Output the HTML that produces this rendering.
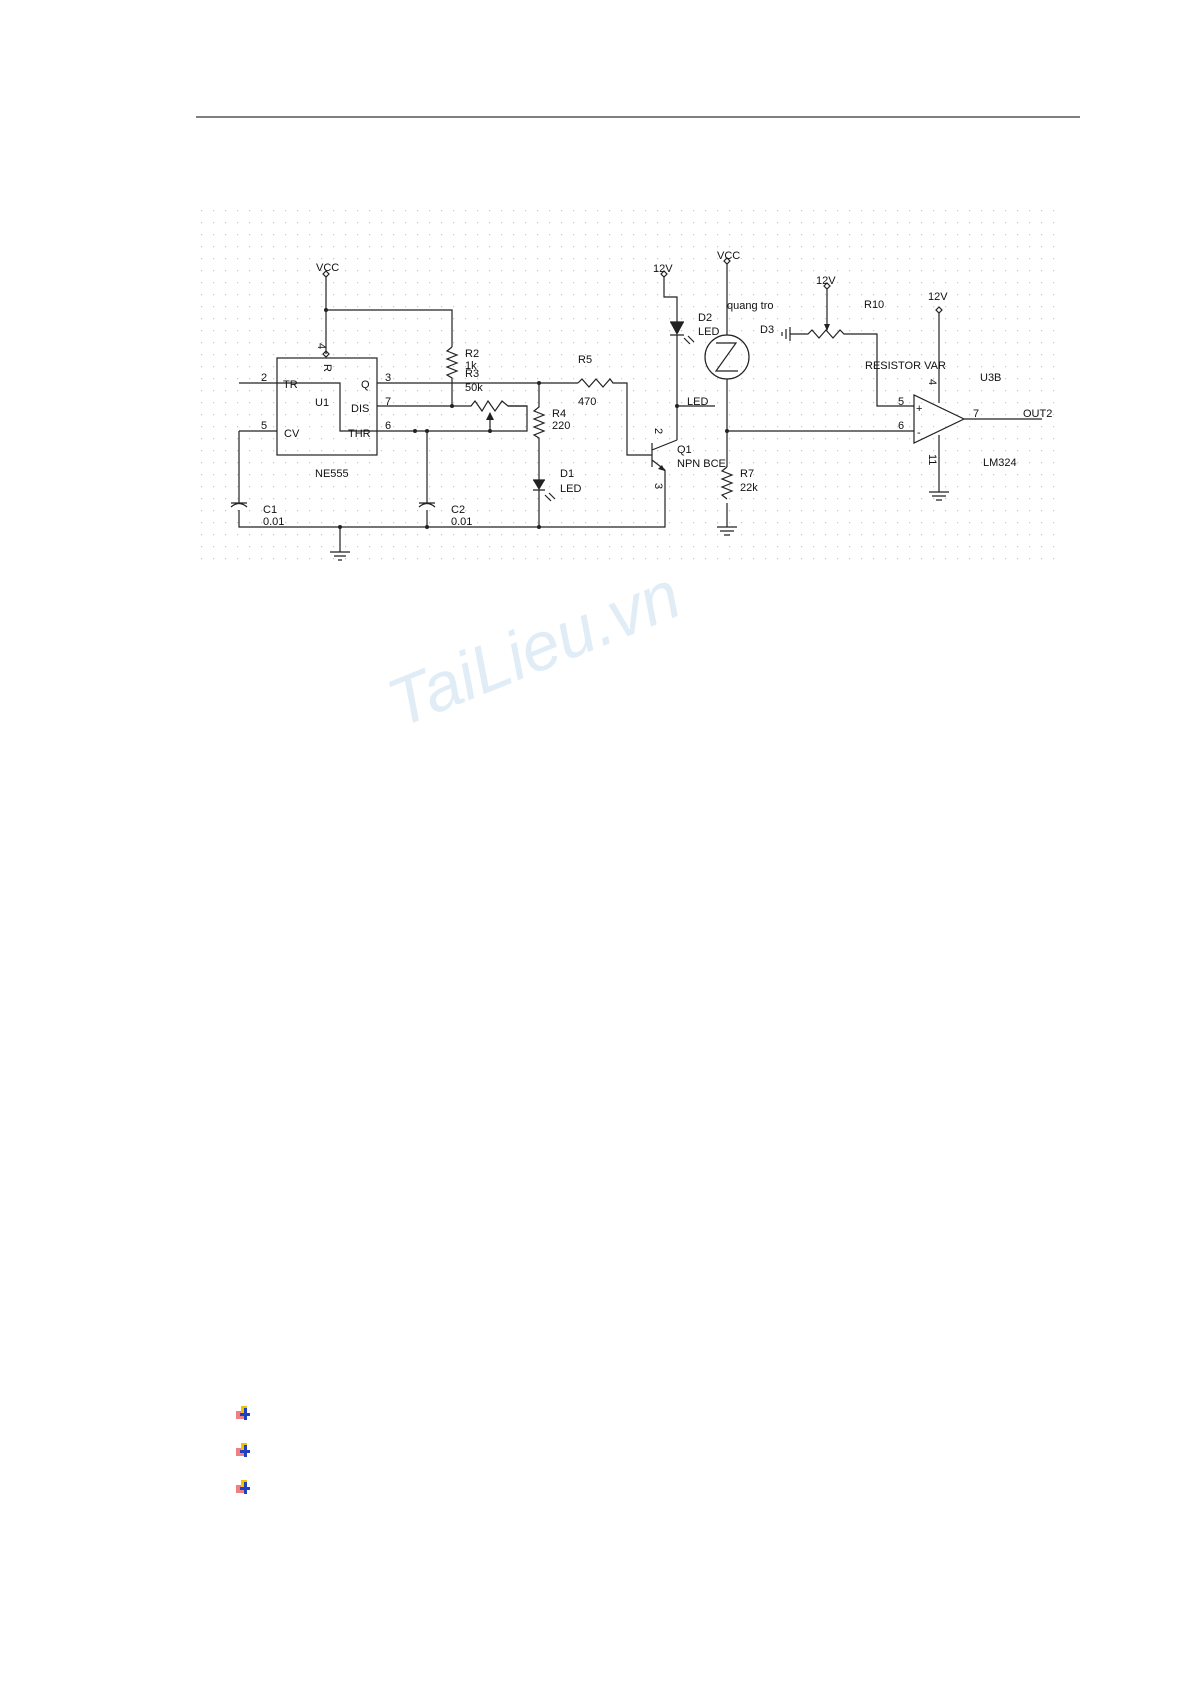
<!DOCTYPE html>
<html><head><meta charset="utf-8"><style>
html,body{margin:0;padding:0;background:#fff}
svg{display:block}
text{font-family:"Liberation Sans",Arial,sans-serif;font-size:11px;fill:#111}
</style></head><body>
<svg width="1192" height="1685" viewBox="0 0 1192 1685" xmlns="http://www.w3.org/2000/svg">
<defs>
<pattern id="g" x="201" y="210" width="12" height="12" patternUnits="userSpaceOnUse">
<rect x="0" y="0" width="1.2" height="1.2" fill="#c8c8c8"/>
</pattern>
</defs>
<line x1="196" y1="117" x2="1080" y2="117" stroke="#000" stroke-width="1"/>
<text x="400" y="728" transform="rotate(-22 400 728)" style="font-size:68px;fill:#e0ecf6;font-style:italic">TaiLieu.vn</text>
<rect x="198" y="208" width="862" height="360" fill="#fff"/>
<rect x="198" y="208" width="862" height="360" fill="url(#g)"/>
<g fill="none" stroke="#222" stroke-width="1.2">
<path d="M326 277 L326 354"/>
<path d="M323 274 l3 -3 l3 3 l-3 3z M323 354 l3 -3 l3 3 l-3 3z"/>
<path d="M326 310 H452 V347"/>
<path d="M452 347 l-5 4 l10 4 l-10 4 l10 4 l-10 4 l10 4 l-10 4 l5 3 V406"/>
<rect x="277" y="358" width="100" height="97"/>
<path d="M239 383 H340 V431 H527 V406 H508"/>
<path d="M377 383 H578"/>
<path d="M578 383 l4 -4 l7 8 l7 -8 l7 8 l7 -8 l3 4 H627 V455 H652"/>
<path d="M377 406 H471 l4 -5 l7 10 l6 -10 l7 10 l7 -10 l6 5 H527"/>
<path d="M490 431 V413"/>
<path d="M239 431 H277 M239 431 V503 M239 510 V527 H665 V470"/>
<path d="M231 507 q8 -7 16 0 M231 503 H247"/>
<path d="M427 431 V503 M427 510 V527"/>
<path d="M419 507 q8 -7 16 0 M419 503 H435"/>
<path d="M340 527 V552 M330 552 H350 M334 556 H346 M338 560 H342"/>
<path d="M539 383 V407 l-5 4 l10 4 l-10 4 l10 4 l-10 4 l10 4 l-10 4 l5 3 V480 M539 490 V527"/>
<path d="M533 480 H545 M533 490 H545"/>
<path d="M545 495 l6 6 M549 493 l6 6"/>
<path d="M664 277 V297 H677 V322 M677 335 V440 M677 406 H715"/>
<path d="M661 274 l3 -3 l3 3 l-3 3z"/>
<path d="M670 322 H684 M670 335 H684"/>
<path d="M684 338 l6 6 M688 336 l6 6"/>
<path d="M652 443 V467 M652 450 L677 440 M652 460 L665 470"/>
<path d="M727 264 V335 M727 379 V467 M727 503 V527"/>
<path d="M724 261 l3 -3 l3 3 l-3 3z"/>
<circle cx="727" cy="357" r="22"/>
<path d="M716 343 H736 L716 371 H738"/>
<path d="M727 467 l-5 4 l10 4 l-10 4 l10 4 l-10 4 l10 4 l-10 4 l5 4"/>
<path d="M717 527 H737 M720 531 H734 M724 535 H730"/>
<path d="M727 431 H914"/>
<path d="M827 289 V330"/>
<path d="M824 286 l3 -3 l3 3 l-3 3z"/>
<path d="M790 334 H808 l4 -4 l7 8 l7 -8 l7 8 l7 -8 l4 4 H877 V406 H914"/>
<path d="M790 327 V341 M786 329 V339 M782 332 V336"/>
<path d="M914 395 V443 L964 419 Z"/>
<path d="M939 313 V403 M939 435 V492 M929 492 H949 M932 496 H946 M936 500 H942"/>
<path d="M936 310 l3 -3 l3 3 l-3 3z"/>
<path d="M964 419 H1042"/>
</g>
<g fill="#222">
<path d="M486 420 l4 -8 l4 8z"/>
<path d="M824 324 l3 7 l3 -7z"/>
<path d="M533 480 h12 l-6 10z"/>
<path d="M670 322 h14 l-7 13z"/>
<path d="M658 469 l7 2 l-3 -6z"/>
<circle cx="326" cy="310" r="2"/><circle cx="452" cy="406" r="2"/><circle cx="539" cy="383" r="2"/>
<circle cx="415" cy="431" r="2"/><circle cx="427" cy="431" r="2"/><circle cx="490" cy="431" r="2"/>
<circle cx="340" cy="527" r="2"/><circle cx="427" cy="527" r="2"/><circle cx="539" cy="527" r="2"/>
<circle cx="677" cy="406" r="2"/><circle cx="727" cy="431" r="2"/>
</g>
<text x="316" y="271">VCC</text>
<text x="318" y="351" transform="rotate(90 322 347)">4</text>
<text x="324" y="372" transform="rotate(90 328 368)">R</text>
<text x="261" y="381">2</text><text x="385" y="381">3</text>
<text x="385" y="405">7</text><text x="261" y="429">5</text><text x="385" y="429">6</text>
<text x="283" y="388">TR</text><text x="361" y="388">Q</text><text x="351" y="412">DIS</text>
<text x="284" y="437">CV</text><text x="348" y="437">THR</text>
<text x="315" y="406">U1</text><text x="315" y="477">NE555</text>
<text x="465" y="357">R2</text><text x="465" y="369">1k</text><text x="465" y="377">R3</text><text x="465" y="391">50k</text>
<text x="578" y="363">R5</text><text x="578" y="405">470</text>
<text x="552" y="417">R4</text><text x="552" y="429">220</text>
<text x="560" y="477">D1</text><text x="560" y="492">LED</text>
<text x="263" y="513">C1</text><text x="263" y="525">0.01</text>
<text x="451" y="513">C2</text><text x="451" y="525">0.01</text>
<text x="653" y="272">12V</text>
<text x="717" y="259">VCC</text>
<text x="727" y="309">quang tro</text>
<text x="698" y="321">D2</text><text x="698" y="335">LED</text>
<text x="687" y="405">LED</text>
<text x="655" y="436" transform="rotate(90 659 432)">2</text>
<text x="655" y="491" transform="rotate(90 659 487)">3</text>
<text x="677" y="453">Q1</text><text x="677" y="467">NPN BCE</text>
<text x="740" y="477">R7</text><text x="740" y="491">22k</text>
<text x="816" y="284">12V</text>
<text x="760" y="333">D3</text>
<text x="864" y="308">R10</text>
<text x="865" y="369">RESISTOR VAR</text>
<text x="928" y="300">12V</text>
<text x="929" y="387" transform="rotate(90 933 383)">4</text>
<text x="927" y="464" transform="rotate(90 933 460)">11</text>
<text x="898" y="405">5</text><text x="898" y="429">6</text>
<text x="916" y="412">+</text><text x="917" y="436">-</text>
<text x="973" y="417">7</text><text x="1023" y="417">OUT2</text>
<text x="980" y="381">U3B</text><text x="983" y="466">LM324</text>
<g>
<rect x="236" y="1411" width="8" height="8" fill="#f08080"/><rect x="241" y="1406" width="6" height="9" fill="#f2c200"/><rect x="240" y="1413" width="10" height="3" fill="#2040c0"/><rect x="244" y="1408" width="3" height="12" fill="#2040c0"/>
<rect x="236" y="1448" width="8" height="8" fill="#f08080"/><rect x="241" y="1443" width="6" height="9" fill="#f2c200"/><rect x="240" y="1450" width="10" height="3" fill="#2040c0"/><rect x="244" y="1445" width="3" height="12" fill="#2040c0"/>
<rect x="236" y="1485" width="8" height="8" fill="#f08080"/><rect x="241" y="1480" width="6" height="9" fill="#f2c200"/><rect x="240" y="1487" width="10" height="3" fill="#2040c0"/><rect x="244" y="1482" width="3" height="12" fill="#2040c0"/>
</g>
</svg>
</body></html>
